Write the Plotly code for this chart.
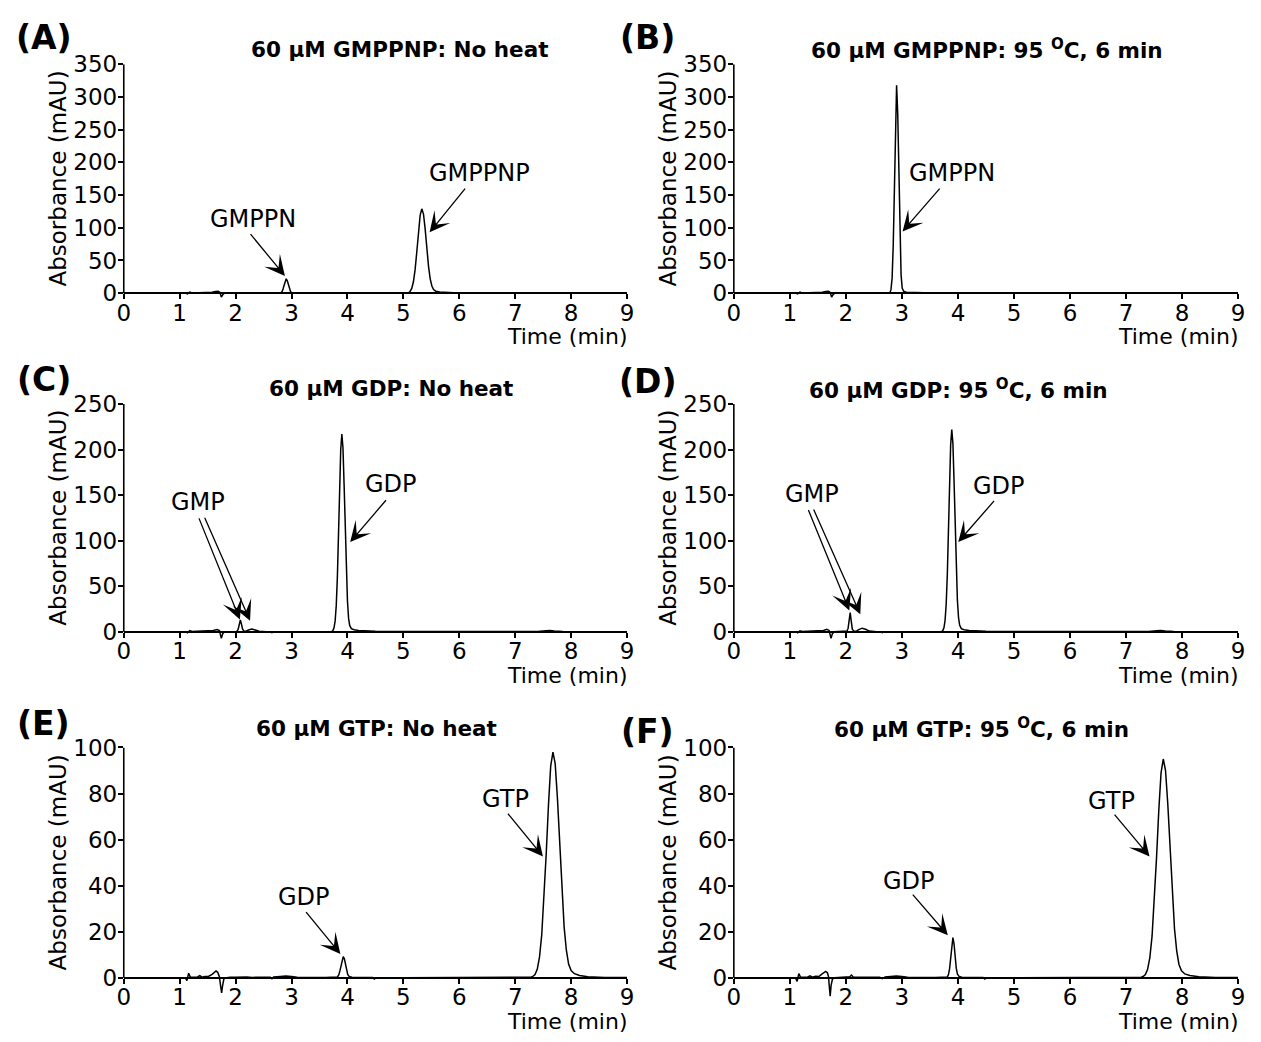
import plotly.graph_objects as go

W, H = 1261, 1042          # browser window
PAGE_MARGIN = 8            # default body margin of the html page
FW, FH = W - 2 * PAGE_MARGIN, H - 2 * PAGE_MARGIN
FONT = "DejaVu Sans"

# ---------------- data (time in min, absorbance in mAU) ----------------
trace_A = [(0, 0), (0.5, 0), (1.0, 0), (1.1, 0.2), (1.14, -1.0), (1.18, 1.5), (1.22, 0.3), (1.3, 0.5),
           (1.4, 0.8), (1.5, 1.0), (1.58, 1.5), (1.64, 2.5), (1.69, 3.0), (1.72, 1.0), (1.745, -6),
           (1.77, -2.5), (1.8, 0), (1.9, 0.3), (2.0, 1.0), (2.06, 0.4), (2.2, 0.5), (2.4, 0.4),
           (2.6, 0.3), (2.75, 0.3), (2.80, 0.4), (2.825, 1.6), (2.845, 5.1), (2.865, 11.5),
           (2.885, 18.7), (2.905, 22), (2.925, 19), (2.945, 12), (2.965, 5.5), (2.985, 2),
           (3.01, 0.8), (3.05, 0.5), (3.2, 0.4), (3.4, 0.5), (3.6, 0.2), (4.0, 0.1), (4.5, 0.1),
           (5.0, 0.2), (5.09, 0.6), (5.12, 2.6), (5.15, 7.2), (5.18, 17.5), (5.21, 36), (5.24, 63),
           (5.27, 94), (5.30, 119), (5.33, 129), (5.36, 121), (5.39, 98), (5.42, 68), (5.45, 41),
           (5.48, 22), (5.51, 11), (5.54, 5.5), (5.58, 3), (5.65, 2), (5.75, 1.2), (5.9, 0.5),
           (6.2, 0.2), (7.0, 0.1), (8.0, 0), (9.0, 0)]

trace_B = [(0, 0), (0.5, 0), (1.0, 0), (1.1, 0.2), (1.14, -1.0), (1.18, 1.5), (1.22, 0.3), (1.3, 0.5),
           (1.4, 0.8), (1.5, 1.0), (1.58, 1.5), (1.64, 2.5), (1.69, 3.0), (1.72, 1.0), (1.745, -6),
           (1.77, -2.5), (1.8, 0), (1.9, 0.3), (2.0, 1.0), (2.06, 0.4), (2.2, 0.5), (2.4, 0.4),
           (2.6, 0.3), (2.75, 0.4), (2.785, 0.8), (2.805, 5.4), (2.825, 23), (2.845, 73),
           (2.865, 165), (2.885, 270), (2.905, 318), (2.925, 275), (2.945, 172), (2.965, 80),
           (2.985, 28), (3.005, 8), (3.03, 3), (3.08, 1.5), (3.2, 0.8), (3.4, 0.6), (3.6, 0.2),
           (4.0, 0.1), (9.0, 0)]

trace_C = [(0, 0), (1.0, 0), (1.1, 0.2), (1.14, -1), (1.18, 1.2), (1.22, 0.3), (1.35, 0.5), (1.5, 1.0),
           (1.6, 1.5), (1.67, 2.5), (1.71, 1.5), (1.745, -7), (1.77, -2), (1.8, 0), (1.9, 0.2),
           (2.0, 0.3), (2.02, 0.4), (2.045, 2.5), (2.065, 8), (2.085, 13), (2.105, 8.5), (2.125, 3),
           (2.15, 0.8), (2.18, 0.5), (2.23, 2), (2.29, 3), (2.35, 2), (2.42, 0.6), (2.55, 0.2),
           (2.62, 0), (2.65, -1), (2.68, 0), (2.75, 0.2), (3.0, 0.2), (3.5, 0.2), (3.72, 0.3),
           (3.74, 1.3), (3.76, 4.3), (3.78, 12), (3.80, 29), (3.82, 60), (3.84, 106), (3.86, 158),
           (3.88, 200), (3.90, 217), (3.92, 202), (3.94, 162), (3.96, 112), (3.98, 66), (4.00, 34),
           (4.02, 15), (4.04, 7), (4.07, 3.5), (4.12, 2.2), (4.2, 1.5), (4.35, 1), (4.5, 0.6),
           (5.0, 0.3), (6.0, 0.2), (7.0, 0.1), (7.4, 0.3), (7.55, 1.2), (7.62, 1.5), (7.7, 1.0),
           (7.85, 0.3), (8.2, 0.1), (9.0, 0)]

trace_D = [(0, 0), (1.0, 0), (1.1, 0.2), (1.14, -1), (1.18, 1.2), (1.22, 0.3), (1.35, 0.5), (1.5, 1.0),
           (1.6, 1.5), (1.66, 2.8), (1.70, 1.5), (1.735, -7), (1.76, -2), (1.79, 0), (1.9, 0.2),
           (2.0, 0.3), (2.02, 1), (2.04, 4), (2.06, 12), (2.077, 21), (2.095, 12), (2.115, 3),
           (2.14, 0.8), (2.18, 0.5), (2.23, 2.5), (2.29, 4), (2.35, 2.8), (2.42, 0.8), (2.55, 0.2),
           (2.62, 0), (2.65, -1), (2.68, 0), (2.75, 0.2), (3.0, 0.2), (3.5, 0.2), (3.71, 0.3),
           (3.73, 1.3), (3.75, 4.4), (3.77, 12.4), (3.79, 30), (3.81, 62), (3.83, 108), (3.85, 161),
           (3.87, 205), (3.89, 222), (3.91, 207), (3.93, 166), (3.95, 115), (3.97, 68), (3.99, 35),
           (4.01, 16), (4.03, 7.5), (4.06, 3.5), (4.11, 2.2), (4.2, 1.5), (4.35, 1), (4.5, 0.6),
           (5.0, 0.3), (6.0, 0.2), (7.0, 0.1), (7.4, 0.3), (7.55, 1.2), (7.62, 1.5), (7.7, 1.0),
           (7.85, 0.3), (8.2, 0.1), (9.0, 0)]

trace_E = [(0, 0), (1.0, 0), (1.1, 0), (1.13, -1.2), (1.16, 2.0), (1.19, 0.3), (1.25, 0.2), (1.32, 0.4),
           (1.36, 1.0), (1.40, 0.3), (1.45, 0.6), (1.52, 0.7), (1.58, 1.5), (1.62, 2.6), (1.65, 3.0),
           (1.68, 2.4), (1.71, 0.5), (1.735, -4), (1.75, -6.5), (1.77, -3), (1.79, -0.5), (1.82, 0),
           (1.9, 0.3), (2.0, 0.3), (2.1, 0.5), (2.2, 0.4), (2.3, 0.2), (2.5, 0.3), (2.62, 0.3),
           (2.65, -0.4), (2.68, 0.4), (2.8, 0.6), (2.9, 0.8), (3.0, 0.6), (3.1, 0.3), (3.3, 0.2),
           (3.6, 0.1), (3.82, 0.4), (3.845, 1.25), (3.865, 3), (3.885, 5.6), (3.905, 8.1),
           (3.925, 9.2), (3.945, 8.3), (3.965, 6), (3.985, 3.3), (4.005, 1.5), (4.03, 0.6),
           (4.08, 0.3), (4.2, 0.1), (4.45, 0.1), (4.48, -0.5), (4.51, 0), (5.0, 0), (6.0, 0),
           (7.0, 0.1), (7.28, 0.3), (7.315, 0.6), (7.355, 1.4), (7.395, 3.8), (7.435, 9.1),
           (7.475, 18.8), (7.515, 34), (7.555, 54), (7.595, 75), (7.635, 92), (7.675, 98),
           (7.715, 93), (7.755, 78), (7.795, 58), (7.835, 38), (7.875, 22), (7.915, 12), (7.955, 6),
           (8.0, 3.2), (8.06, 1.8), (8.15, 1), (8.3, 0.5), (8.6, 0.2), (9.0, 0.1)]

trace_F = [(0, 0), (1.0, 0), (1.1, 0), (1.13, -1.5), (1.16, 1.8), (1.19, 0.3), (1.25, 0.2), (1.32, 0.4),
           (1.36, 0.9), (1.40, 0.3), (1.46, 0.7), (1.52, 0.6), (1.57, 1.6), (1.61, 2.5), (1.64, 2.8),
           (1.67, 2.2), (1.69, 0.5), (1.705, -4), (1.72, -8), (1.735, -3.5), (1.76, -0.5), (1.8, 0),
           (1.9, 0.3), (2.0, 0.3), (2.07, 0.5), (2.1, 1.2), (2.13, 0.4), (2.2, 0.3), (2.4, 0.2),
           (2.6, 0.3), (2.65, -0.3), (2.7, 0.4), (2.8, 0.6), (2.9, 0.8), (3.0, 0.6), (3.1, 0.3),
           (3.3, 0.2), (3.6, 0.1), (3.81, 0.4), (3.83, 1.3), (3.85, 3.8), (3.87, 8.3), (3.89, 14.2),
           (3.91, 17.5), (3.93, 14.8), (3.95, 9), (3.97, 4.2), (3.99, 1.7), (4.02, 0.6), (4.07, 0.3),
           (4.2, 0.1), (4.45, 0.1), (4.48, -0.5), (4.51, 0), (5.0, 0), (6.0, 0), (7.0, 0.1),
           (7.27, 0.3), (7.305, 0.6), (7.345, 1.4), (7.385, 3.7), (7.425, 8.8), (7.465, 18.2),
           (7.505, 33), (7.545, 52.4), (7.585, 72.8), (7.625, 89), (7.665, 95), (7.705, 90),
           (7.745, 75.6), (7.785, 56), (7.825, 37), (7.865, 21.3), (7.905, 11.6), (7.945, 5.8),
           (7.99, 3.1), (8.05, 1.7), (8.14, 1), (8.3, 0.5), (8.6, 0.2), (9.0, 0.1)]

x_ticks = [0, 1, 2, 3, 4, 5, 6, 7, 8, 9]
y_ticks_AB = [0, 50, 100, 150, 200, 250, 300, 350]
y_ticks_CD = [0, 50, 100, 150, 200, 250]
y_ticks_EF = [0, 20, 40, 60, 80, 100]

titles = ["60 μM GMPPNP: No heat", "60 μM GMPPNP: 95 <sup>O</sup>C, 6 min",
          "60 μM GDP: No heat", "60 μM GDP: 95 <sup>O</sup>C, 6 min",
          "60 μM GTP: No heat", "60 μM GTP: 95 <sup>O</sup>C, 6 min"]
letters = ["(A)", "(B)", "(C)", "(D)", "(E)", "(F)"]

# peak labels: (text, label x, label y) and arrows: (tip x, tip y, tail x, tail y)
labels = [
    [("GMPPN", 2.316, 113.6), ("GMPPNP", 6.358, 183.9)],
    [("GMPPN", 3.891, 184.4)],
    [("GMP", 1.326, 142.3), ("GDP", 4.784, 162.2)],
    [("GMP", 1.394, 150.7), ("GDP", 4.741, 160.4)],
    [("GDP", 3.218, 34.9), ("GTP", 6.825, 77.7)],
    [("GDP", 3.120, 42.0), ("GTP", 6.741, 76.9)],
]
arrows = [
    [(2.882, 26.3, 2.245, 92.6), (5.469, 93.0, 6.126, 162.2)],
    [(3.012, 94.5, 3.697, 162.2)],
    [(2.077, 13.5, 1.335, 126.1), (2.258, 12.1, 1.436, 126.9), (4.049, 98.5, 4.712, 146.0)],
    [(2.061, 23.5, 1.320, 135.2), (2.257, 19.2, 1.413, 135.9), (4.006, 98.6, 4.669, 145.3)],
    [(3.874, 10.4, 3.239, 29.2), (7.496, 52.7, 6.848, 71.9)],
    [(3.819, 18.5, 3.171, 36.8), (7.420, 52.7, 6.773, 71.5)],
]

traces = [trace_A, trace_B, trace_C, trace_D, trace_E, trace_F]
yticks = [y_ticks_AB, y_ticks_AB, y_ticks_CD, y_ticks_CD, y_ticks_EF, y_ticks_EF]


# ---------------- geometry (window pixels -> paper) ----------------
def PX(px):
    return (px - PAGE_MARGIN) / FW


def PY(py):
    return 1 - (py - PAGE_MARGIN) / FH


cols = [(118, 627), (735, 1245)]
rows = [dict(y0=284.5, ytop=52, ext=10, tcy=36.5),
        dict(y0=628.5, ytop=397, ext=12, tcy=381.5),
        dict(y0=980, ytop=746, ext=22, tcy=726.5)]
title_cx = [397, 991.5, 388, 962, 373.6, 985]
letter_pos = [(37, 25), (648, 25), (37, 372), (648, 374), (37, 722), (648, 730)]

fig = go.Figure()
layout = dict(width=FW, height=FH, margin=dict(l=0, r=0, t=0, b=0), autosize=False,
              paper_bgcolor="white", plot_bgcolor="white", showlegend=False,
              font=dict(family=FONT, color="black"))
annotations = []
shapes = []

for i in range(6):
    r, c = divmod(i, 2)
    k = "" if i == 0 else str(i + 1)
    x0, x1 = cols[c]
    g = rows[r]
    ymax = yticks[i][-1]
    ymin = -g["ext"] * ymax / (g["y0"] - g["ytop"])
    xs = [p[0] for p in traces[i]]
    ys = [p[1] for p in traces[i]]
    fig.add_trace(go.Scatter(x=xs, y=ys, mode="lines", line=dict(color="black", width=1.5),
                             xaxis="x" + k, yaxis="y" + k, hoverinfo="skip"))
    layout["xaxis" + k] = dict(domain=[PX(x0), PX(x1)], range=[0, 9], tickvals=x_ticks,
                               anchor="free", position=PY(g["y0"]),
                               showline=True, linecolor="black", linewidth=1.6,
                               ticks="outside", ticklen=5, tickwidth=1.5, tickcolor="black",
                               ticklabelstandoff=-6,
                               tickfont=dict(family=FONT, size=23, color="black"),
                               showgrid=False, zeroline=False, fixedrange=True)
    layout["yaxis" + k] = dict(domain=[PY(g["y0"] + g["ext"]), PY(g["ytop"])],
                               range=[ymin, ymax], tickvals=yticks[i], anchor="x" + k,
                               showline=False, ticks="outside", ticklen=5, tickwidth=1.5,
                               tickcolor="black", ticklabelstandoff=-4,
                               tickfont=dict(family=FONT, size=23, color="black"),
                               showgrid=False, zeroline=False, fixedrange=True)
    shapes.append(dict(type="line", xref="x" + k + " domain", yref="y" + k,
                       x0=0, x1=0, y0=0, y1=ymax, line=dict(color="black", width=1.6)))
    # titles
    annotations.append(dict(text="<b>" + titles[i] + "</b>", xref="paper", yref="paper",
                            x=PX(title_cx[i]), y=PY(g["tcy"]), showarrow=False,
                            xanchor="center", yanchor="middle",
                            font=dict(family=FONT, size=21.5, color="black")))
    lx, ly = letter_pos[i]
    annotations.append(dict(text="<b>" + letters[i] + "</b>", xref="paper", yref="paper",
                            x=PX(lx), y=PY(ly), showarrow=False,
                            xanchor="center", yanchor="middle",
                            font=dict(family=FONT, size=33, color="black")))
    # axis titles
    annotations.append(dict(text="Time (min)", xref="x" + k + " domain", yref="paper",
                            x=1, y=PY(g["y0"] + 44), xshift=3, showarrow=False,
                            xanchor="right", yanchor="middle",
                            font=dict(family=FONT, size=22, color="black")))
    annotations.append(dict(text="Absorbance (mAU)", xref="x" + k + " domain", yref="paper",
                            x=0, y=PY((g["y0"] + g["ytop"]) / 2), xshift=-66,
                            textangle=-90, showarrow=False, xanchor="center", yanchor="middle",
                            font=dict(family=FONT, size=23, color="black")))
    for (txt, tx, ty) in labels[i]:
        annotations.append(dict(text=txt, xref="x" + k, yref="y" + k, x=tx, y=ty,
                                showarrow=False, xanchor="center", yanchor="middle",
                                font=dict(family=FONT, size=24, color="black")))
    for (hx, hy, tx, ty) in arrows[i]:
        annotations.append(dict(text="", xref="x" + k, yref="y" + k, x=hx, y=hy,
                                axref="x" + k, ayref="y" + k, ax=tx, ay=ty,
                                showarrow=True, arrowhead=3, arrowsize=2.6, arrowwidth=1.3,
                                arrowcolor="black"))

layout["annotations"] = annotations
layout["shapes"] = shapes
fig.update_layout(**layout)
fig.write_html("out.html", config={"displayModeBar": False, "responsive": False})
